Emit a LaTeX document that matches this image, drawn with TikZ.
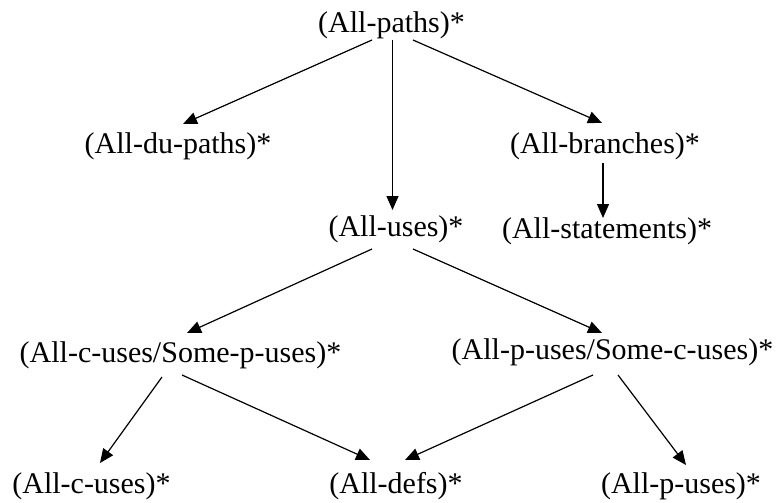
\documentclass[tikz,border=0pt]{standalone}
\usepackage{fontspec}
\setmainfont{Liberation Serif}
\usetikzlibrary{arrows.meta,calc}
\begin{document}
\begin{tikzpicture}[x=1pt,y=-1pt,
  crit/.style={anchor=base,inner sep=0pt,font=\fontsize{30}{34}\selectfont},
  arr/.style={line width=1.2pt,-{Triangle[length=14pt,width=12pt]}}]
\useasboundingbox (0,0) rectangle (776,503);
% coverage criteria, one node each (placed by baseline)
\node[crit] (paths)      at (391.5,33)  {(All-paths)*};
\node[crit] (dupaths)    at (178,153)   {(All-du-paths)*};
\node[crit] (branches)   at (605,153)   {(All-branches)*};
\node[crit] (uses)       at (396,236)   {(All-uses)*};
\node[crit] (statements) at (607,238)   {(All-statements)*};
\node[crit] (cp)         at (180.5,362) {(All-c-uses/Some-p-uses)*};
\node[crit] (pc)         at (612.5,359) {(All-p-uses/Some-c-uses)*};
\node[crit] (cuses)      at (91.5,493)  {(All-c-uses)*};
\node[crit] (defs)       at (396,493)   {(All-defs)*};
\node[crit] (puses)      at (681,493)   {(All-p-uses)*};
% subsumption arrows
\draw[arr] ($(paths.base)+(-19.5,7)$) -- ($(dupaths.base)+(5,-29)$);
\draw[arr] ($(paths.base)+(1,7)$) -- ($(uses.base)+(-3.5,-26)$);
\draw[arr] ($(paths.base)+(21.5,7)$) -- ($(branches.base)+(-3,-30)$);
\draw[arr] ($(branches.base)+(-2,10)$) -- ($(statements.base)+(-4,-20)$);
\draw[arr] ($(uses.base)+(-24,13)$) -- ($(cp.base)+(6.5,-29)$);
\draw[arr] ($(uses.base)+(17,13)$) -- ($(pc.base)+(-10.5,-26)$);
\draw[arr] ($(cp.base)+(-18.5,15)$) -- ($(cuses.base)+(8.5,-30)$);
\draw[arr] ($(cp.base)+(1.5,13)$) -- ($(defs.base)+(-26,-33)$);
\draw[arr] ($(pc.base)+(-19.5,16)$) -- ($(defs.base)+(9,-33)$);
\draw[arr] ($(pc.base)+(5.5,16)$) -- ($(puses.base)+(5,-28)$);
\end{tikzpicture}
\end{document}
